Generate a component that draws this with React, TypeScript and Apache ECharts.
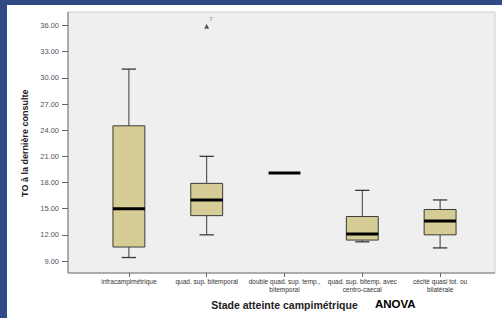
import React, { useEffect, useRef } from "react";
import * as echarts from "echarts";

const categories = [
  "infracampimétrique",
  "quad. sup. bitemporal",
  "double quad. sup. temp.,\nbitemporal",
  "quad. sup. bitemp. avec\ncentro-caecal",
  "cécité quasi tot. ou\nbilatérale",
];
const whiskerLow = [9.4, 12.0, 19.1, 11.2, 10.5];
const quartile1 = [10.6, 14.2, 19.1, 11.4, 12.0];
const medians = [15.0, 16.0, 19.1, 12.1, 13.6];
const quartile3 = [24.5, 17.9, 19.1, 14.1, 14.9];
const whiskerHigh = [31.0, 21.0, 19.1, 17.1, 16.0];
const outliers = [{ category: 1, value: 35.9, label: "7" }];
const yTicks = { min: 9, max: 36, interval: 3 };

const FONT = "'Liberation Sans', Arial, sans-serif";

export default function App() {
  const ref = useRef<HTMLDivElement>(null);
  useEffect(() => {
    if (!ref.current) return;
    const chart = echarts.init(ref.current, undefined, { renderer: "svg" });
    const boxData = categories.map((_, i) => [
      i,
      whiskerLow[i],
      quartile1[i],
      medians[i],
      quartile3[i],
      whiskerHigh[i],
    ]);
    chart.setOption({
      animation: false,
      backgroundColor: "#ffffff",
      textStyle: { fontFamily: FONT },
      grid: { left: 90, right: 23, top: 25.5, bottom: 57 },
      graphic: [
        { type: "rect", shape: { x: 0, y: 0, width: 502, height: 5 }, style: { fill: "#2f4a85" }, z: -5 },
        { type: "rect", shape: { x: 0, y: 0, width: 7, height: 318 }, style: { fill: "#2f4a85" }, z: -5 },
        {
          type: "rect",
          shape: { x: 68, y: 12, width: 427, height: 261 },
          style: { fill: "#efefef", stroke: "#cdcdcd", lineWidth: 1 },
          z: -5,
        },
        { type: "line", shape: { x1: 68, y1: 12, x2: 68, y2: 273 }, style: { stroke: "#777", lineWidth: 1 }, z: -4 },
        { type: "line", shape: { x1: 68, y1: 273, x2: 495, y2: 273 }, style: { stroke: "#777", lineWidth: 1 }, z: -4 },
        {
          type: "text",
          x: 375,
          y: 298,
          style: { text: "ANOVA", fill: "#000", font: `bold 11.5px ${FONT}` },
        },
      ],
      xAxis: {
        type: "category",
        data: categories,
        offset: 12,
        axisLine: { show: false },
        axisTick: { show: true, alignWithLabel: true, length: 4, lineStyle: { color: "#666" } },
        axisLabel: { interval: 0, fontSize: 6.5, lineHeight: 7.5, color: "#333", margin: 5 },
        name: "Stade atteinte campimétrique",
        nameLocation: "middle",
        nameGap: 26,
        nameTextStyle: { fontSize: 10.5, fontWeight: "bold", color: "#222", fontFamily: FONT },
      },
      yAxis: {
        type: "value",
        min: yTicks.min,
        max: yTicks.max,
        interval: yTicks.interval,
        offset: 22,
        axisLine: { show: false },
        axisTick: { show: true, length: 6, lineStyle: { color: "#666" } },
        axisLabel: { fontSize: 7.5, color: "#555", margin: 9, formatter: (v: number) => v.toFixed(2) },
        splitLine: { show: false },
        name: "TO à la dernière consulte",
        nameLocation: "middle",
        nameGap: 37,
        nameTextStyle: { fontSize: 9, fontWeight: "bold", color: "#222", fontFamily: FONT },
      },
      series: [
        {
          type: "custom",
          data: boxData,
          encode: { x: 0, y: [1, 2, 3, 4, 5] },
          clip: false,
          renderItem: (params: any, api: any) => {
            const x = api.value(0);
            const pLow = api.coord([x, api.value(1)]);
            const pQ1 = api.coord([x, api.value(2)]);
            const pMed = api.coord([x, api.value(3)]);
            const pQ3 = api.coord([x, api.value(4)]);
            const pHigh = api.coord([x, api.value(5)]);
            const bw = api.size([1, 0])[0] * 0.41;
            const cw = bw * 0.45;
            const cx = pMed[0];
            const stroke = "#3a3a3a";
            const children: any[] = [];
            children.push({
              type: "line",
              shape: { x1: cx, y1: pHigh[1], x2: cx, y2: pQ3[1] },
              style: { stroke, lineWidth: 1 },
            });
            children.push({
              type: "line",
              shape: { x1: cx, y1: pQ1[1], x2: cx, y2: pLow[1] },
              style: { stroke, lineWidth: 1 },
            });
            children.push({
              type: "line",
              shape: { x1: cx - cw / 2, y1: pHigh[1], x2: cx + cw / 2, y2: pHigh[1] },
              style: { stroke, lineWidth: 1.3 },
            });
            children.push({
              type: "line",
              shape: { x1: cx - cw / 2, y1: pLow[1], x2: cx + cw / 2, y2: pLow[1] },
              style: { stroke, lineWidth: 1.3 },
            });
            if (pQ1[1] - pQ3[1] > 0.5) {
              children.push({
                type: "rect",
                shape: { x: cx - bw / 2, y: pQ3[1], width: bw, height: pQ1[1] - pQ3[1] },
                style: { fill: "#d6cd96", stroke, lineWidth: 1 },
              });
            }
            children.push({
              type: "line",
              shape: { x1: cx - bw / 2, y1: pMed[1], x2: cx + bw / 2, y2: pMed[1] },
              style: { stroke: "#000", lineWidth: 3 },
            });
            return { type: "group", children };
          },
          z: 3,
        },
        {
          type: "scatter",
          data: outliers.map((o) => ({ value: [o.category, o.value], label: { formatter: o.label } })),
          symbol: "triangle",
          symbolSize: 5,
          itemStyle: { color: "#333" },
          clip: false,
          label: { show: true, position: [5, -8], fontSize: 6, color: "#555" },
          z: 4,
        },
      ],
    });
    return () => chart.dispose();
  }, []);
  return (
    <div
      ref={ref}
      style={{ position: "fixed", left: 0, top: 0, width: 502, height: 318 }}
    />
  );
}
